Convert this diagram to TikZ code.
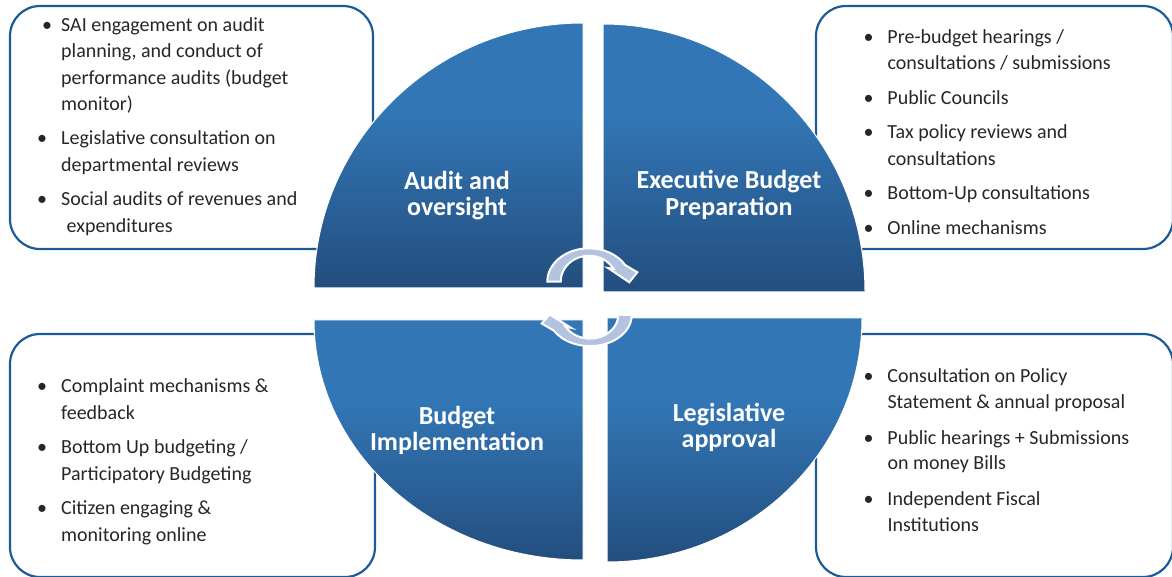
\documentclass[tikz,border=0pt]{standalone}
\usepackage{fontspec}
\setmainfont{Carlito}
\definecolor{qlight}{HTML}{3276B5}
\definecolor{qdark}{HTML}{234E7E}
\definecolor{boxblue}{HTML}{1D5B96}
\definecolor{txt}{HTML}{262626}
\definecolor{arr}{HTML}{B3C3DF}
\pgfdeclareverticalshading{quadshade}{100bp}{color(0bp)=(qdark); color(25bp)=(qdark); color(58bp)=(qlight); color(100bp)=(qlight)}
\newcommand{\bul}[1][14pt]{\llap{\textbullet\hspace{#1}}}
\begin{document}
\begin{tikzpicture}[x=1pt,y=1pt,
  infobox/.style={draw=boxblue, line width=2.2pt, rounded corners=30pt},
  quad/.style={shading=quadshade, draw=white, line width=1pt},
  qlabel/.style={text=white, font=\fontsize{26}{26}\selectfont\bfseries, inner sep=0pt, anchor=base},
  blist/.style={text=txt, inner sep=0pt, anchor=base west},
  cyc/.style={fill=arr, draw=white, line width=2pt, line join=miter}
]
\useasboundingbox (0,0) rectangle (1172,576);
% boxes
\draw[infobox] (10,327) rectangle (373,570);
\draw[infobox] (816,327) rectangle (1173,570);
\draw[infobox] (10,-1) rectangle (375,242);
\draw[infobox] (816,-1) rectangle (1173,242);
% quadrants
\path[quad] (583,288) -- (314,288) arc[start angle=180,end angle=90,x radius=269,y radius=265] -- cycle;
\path[quad] (603,284) -- (603,552) arc[start angle=90,end angle=0,x radius=262,y radius=268] -- cycle;
\path[quad] (583,256) -- (314,256) arc[start angle=180,end angle=270,x radius=269,y radius=240] -- cycle;
\path[quad] (607,258) -- (862,258) arc[start angle=0,end angle=-90,x radius=255,y radius=244] -- cycle;
% cycle arrows
\path[cyc] (547.3,294.3) arc[start angle=180,end angle=30,x radius=41.7,y radius=33.4] -- (637.3,303.7) -- (629.3,293.7) -- (608,308) -- (613.5,307.3) arc[start angle=30,end angle=180,x radius=28.3,y radius=26] -- cycle;
\begin{scope}[rotate around={180:(589.5,277.6)}]
\path[cyc] (547.3,294.3) arc[start angle=180,end angle=30,x radius=41.7,y radius=31] -- (637.3,302.7) -- (629.3,293.7) -- (608,307) -- (613.5,305.8) arc[start angle=30,end angle=180,x radius=28.3,y radius=24] -- cycle;
\end{scope}
% labels
\node[qlabel] (audit) at (457,386.7) {\begin{tabular}[t]{@{}c@{}}Audit and\\oversight\end{tabular}};
\node[qlabel] (exec) at (729,387) {\begin{tabular}[t]{@{}c@{}}Executive Budget\\Preparation\end{tabular}};
\node[qlabel] (impl) at (457,152) {\begin{tabular}[t]{@{}c@{}}Budget\\Implementation\end{tabular}};
\node[qlabel] (legis) at (729,154.3) {\begin{tabular}[t]{@{}c@{}}Legislative\\approval\end{tabular}};
% lists
\node[blist, font=\fontsize{20}{26.2}\selectfont] (listTL) at (61,544.3) {\begin{tabular}[t]{@{}l@{}}
\bul[9pt]SAI engagement on audit\\
planning, and conduct of\\
performance audits (budget\\
monitor)\\[8.5pt]
\bul Legislative consultation on\\
departmental reviews\\[8.5pt]
\bul Social audits of revenues and\\
\hspace{5.5pt}expenditures
\end{tabular}};
\node[blist, font=\fontsize{20}{26.5}\selectfont] (listTR) at (887.3,532.7) {\begin{tabular}[t]{@{}l@{}}
\bul Pre-budget hearings /\\
consultations / submissions\\[8pt]
\bul Public Councils\\[8pt]
\bul Tax policy reviews and\\
consultations\\[8pt]
\bul Bottom-Up consultations\\[8pt]
\bul Online mechanisms
\end{tabular}};
\node[blist, font=\fontsize{20}{26.5}\selectfont] (listBL) at (61,183.3) {\begin{tabular}[t]{@{}l@{}}
\bul Complaint mechanisms \&\\
feedback\\[8pt]
\bul Bottom Up budgeting /\\
Participatory Budgeting\\[8pt]
\bul Citizen engaging \&\\
monitoring online
\end{tabular}};
\node[blist, font=\fontsize{20}{25.5}\selectfont] (listBR) at (887.3,193.3) {\begin{tabular}[t]{@{}l@{}}
\bul Consultation on Policy\\
Statement \& annual proposal\\[10.5pt]
\bul Public hearings + Submissions\\
on money Bills\\[10.5pt]
\bul Independent Fiscal\\
Institutions
\end{tabular}};
\end{tikzpicture}
\end{document}
